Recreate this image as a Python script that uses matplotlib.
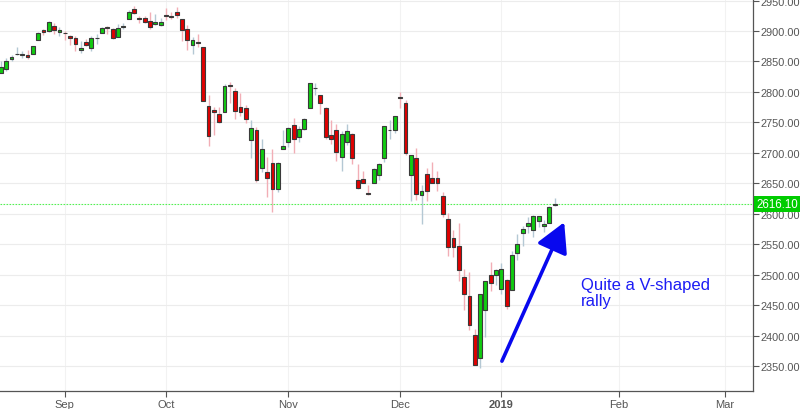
import numpy as np
import pandas as pd
import matplotlib
matplotlib.use("Agg")
import matplotlib.pyplot as plt
from matplotlib.transforms import blended_transform_factory

plt.rcParams['font.family'] = ['Liberation Sans', 'DejaVu Sans']

# S&P 500 daily candles, 16 Aug 2018 - 16 Jan 2019
holidays = ['2018-09-03', '2018-11-22', '2018-12-05', '2018-12-25', '2019-01-01']
dates = pd.bdate_range('2018-08-16', '2019-01-16')
dates = dates[~dates.isin(pd.to_datetime(holidays))]

opens = [2831.44, 2838.32, 2853.93, 2861.51, 2860.99, 2860.29, 2862.35, 2884.69, 2901.45, 2900.62, 2908.94, 2898.37,
         2896.96, 2891.59, 2888.64, 2868.26, 2881.39, 2871.57, 2888.29, 2896.85, 2906.38, 2903.83, 2890.74, 2906.60,
         2919.73, 2936.76, 2921.83, 2921.75, 2916.98, 2911.65, 2910.03,
         2926.29, 2923.80, 2931.69, 2919.35, 2902.54, 2877.53, 2882.51, 2873.90, 2776.87, 2770.54, 2763.83, 2767.05,
         2811.67, 2802.00, 2775.66, 2773.94, 2721.03, 2737.87, 2674.88, 2667.86, 2682.65, 2640.68, 2705.60,
         2717.58, 2745.45, 2726.37, 2738.40, 2774.13, 2806.38, 2794.10, 2773.93, 2730.05, 2737.90, 2693.52, 2718.54,
         2730.74, 2654.60, 2657.74, 2633.36, 2649.97, 2663.75, 2691.45, 2736.97, 2737.76,
         2790.50, 2782.43, 2663.51, 2691.26, 2630.86, 2664.44, 2658.23, 2658.70, 2629.68, 2590.75, 2559.90, 2547.05,
         2496.77, 2465.38, 2400.56, 2363.12, 2442.50, 2498.77, 2498.94,
         2476.96, 2491.92, 2474.33, 2535.61, 2568.11, 2580.00, 2573.51, 2588.11, 2580.31, 2585.10, 2614.75]
highs = [2850.49, 2855.63, 2859.76, 2873.23, 2867.54, 2868.78, 2876.16, 2898.25, 2903.77, 2916.50, 2912.46, 2906.32,
         2900.18, 2894.21, 2892.05, 2883.81, 2886.93, 2892.52, 2894.65, 2906.76, 2908.30, 2904.65, 2911.17, 2912.36,
         2934.80, 2940.91, 2923.79, 2923.95, 2931.15, 2927.22, 2920.53,
         2937.06, 2931.42, 2939.86, 2919.78, 2909.64, 2889.45, 2894.83, 2874.02, 2795.14, 2775.77, 2775.99, 2813.46,
         2816.94, 2806.04, 2797.77, 2778.94, 2753.59, 2742.59, 2722.70, 2692.38, 2706.85, 2685.43, 2736.69,
         2741.67, 2756.55, 2744.27, 2756.82, 2815.15, 2814.75, 2794.10, 2775.99, 2754.60, 2746.80, 2735.38, 2746.75,
         2733.16, 2681.18, 2670.73, 2647.55, 2674.35, 2682.53, 2744.00, 2753.75, 2760.88,
         2800.18, 2785.93, 2696.15, 2708.54, 2647.51, 2674.35, 2685.44, 2670.19, 2635.07, 2601.13, 2573.99, 2585.29,
         2509.63, 2504.41, 2410.34, 2467.76, 2489.10, 2520.27, 2509.24,
         2519.49, 2493.14, 2538.07, 2566.16, 2579.82, 2595.32, 2597.82, 2596.27, 2589.32, 2613.08, 2625.76]
lows = [2831.44, 2833.73, 2850.62, 2861.32, 2856.05, 2854.03, 2862.35, 2884.69, 2893.50, 2898.40, 2895.22, 2891.73,
        2885.13, 2876.92, 2867.29, 2864.12, 2875.94, 2866.78, 2879.20, 2896.39, 2895.77, 2886.16, 2890.43, 2903.82,
        2919.73, 2927.11, 2912.63, 2913.70, 2903.28, 2909.27, 2907.50,
        2917.91, 2919.37, 2921.36, 2883.92, 2869.29, 2862.08, 2874.27, 2784.86, 2710.51, 2729.44, 2749.03, 2766.91,
        2781.81, 2755.18, 2760.27, 2749.22, 2691.43, 2651.89, 2667.84, 2628.16, 2603.54, 2635.34, 2705.60,
        2708.85, 2700.44, 2717.94, 2737.08, 2774.13, 2794.99, 2764.24, 2722.00, 2714.98, 2685.75, 2670.75, 2712.16,
        2681.09, 2641.39, 2649.82, 2631.09, 2649.97, 2655.89, 2684.38, 2722.94, 2732.76,
        2773.38, 2697.18, 2621.53, 2623.14, 2583.23, 2621.30, 2650.26, 2637.27, 2593.84, 2530.54, 2528.71, 2488.96,
        2441.18, 2408.55, 2351.10, 2346.58, 2397.94, 2472.89, 2482.82,
        2467.47, 2443.96, 2474.33, 2524.56, 2547.56, 2568.89, 2562.02, 2577.40, 2570.41, 2585.10, 2612.68]
closes = [2840.69, 2850.13, 2857.05, 2862.96, 2861.82, 2856.98, 2874.69, 2896.74, 2897.52, 2914.04, 2901.13, 2901.52,
          2896.72, 2888.60, 2878.05, 2871.68, 2877.13, 2887.89, 2888.92, 2904.18, 2904.98, 2888.80, 2904.31, 2907.95,
          2930.75, 2929.67, 2919.37, 2915.56, 2905.97, 2914.00, 2913.98,
          2924.59, 2923.43, 2925.51, 2901.61, 2885.57, 2884.43, 2880.34, 2785.68, 2728.37, 2767.13, 2750.79, 2809.92,
          2809.21, 2768.78, 2767.78, 2755.88, 2740.69, 2656.10, 2705.57, 2658.69, 2641.25, 2682.63, 2711.74,
          2740.37, 2723.06, 2738.31, 2755.45, 2813.89, 2806.83, 2781.01, 2726.22, 2722.18, 2701.58, 2730.20, 2736.27,
          2690.73, 2641.89, 2649.93, 2632.56, 2673.45, 2682.17, 2743.79, 2737.80, 2760.17,
          2790.37, 2700.06, 2695.95, 2633.08, 2637.72, 2636.78, 2651.07, 2650.54, 2599.95, 2545.94, 2546.16, 2506.96,
          2467.42, 2416.62, 2351.10, 2467.70, 2488.83, 2485.74, 2506.85,
          2510.03, 2447.89, 2531.94, 2549.69, 2574.41, 2584.96, 2596.64, 2596.26, 2582.61, 2610.30, 2616.10]

last_price = 2616.10
month_labels = ['Sep', 'Oct', 'Nov', 'Dec', '2019', 'Feb', 'Mar']
month_starts = ['2018-09-01', '2018-10-01', '2018-11-01', '2018-12-01', '2019-01-01', '2019-02-01', '2019-03-01']
y_ticks = np.arange(2350, 2951, 50)

o = np.array(opens)
h = np.array(highs)
l = np.array(lows)
c = np.array(closes)
x = np.arange(len(c))
up = c >= o

# month tick positions on the trading-day axis (future dates counted as weekdays)
tick_pos = []
for m in month_starts:
    m = pd.Timestamp(m)
    if m <= dates[-1]:
        tick_pos.append(int(np.searchsorted(dates, m)))
    else:
        tick_pos.append(len(dates) - 1 + int(np.busday_count(dates[-1].date(), m.date())))

fig = plt.figure(figsize=(8, 4.1), dpi=100)
ax = fig.add_axes([0, 18 / 410, 753 / 800, 392 / 410])

green = '#11cc11'
red = '#e00000'
wick_cols = np.where(up, '#b4c8d4', '#f2aeb6')

ax.vlines(x, l, h, colors=wick_cols, linewidth=1.0, zorder=2)
body_bottom = np.minimum(o, c)
body_h = np.maximum(np.abs(c - o), 0.6)
ax.bar(x, body_h, bottom=body_bottom, width=0.72, color=np.where(up, green, red),
       edgecolor='#3a3a3a', linewidth=0.8, zorder=3)

# last price line and label
ax.axhline(last_price, color='#55ee55', linestyle=(0, (1.5, 1.2)), linewidth=0.8, zorder=1)
trans = blended_transform_factory(ax.transAxes, ax.transData)
ax.text(1.004, last_price, f'{last_price:.2f}', transform=trans, ha='left', va='center',
        color='white', fontsize=8.3, zorder=10, clip_on=False,
        bbox=dict(boxstyle='square,pad=0.18', facecolor='#00cc00', edgecolor='none'))

# annotation
ax.annotate('', xy=(105.8, 2586), xytext=(94.1, 2358),
            arrowprops=dict(arrowstyle='-|>,head_length=1.0,head_width=0.55', color='#0808ee',
                            lw=2.6, mutation_scale=18, shrinkA=0, shrinkB=0), zorder=5)
ax.text(109.0, 2496, 'Quite a V-shaped\nrally', color='#1c1cf5', fontsize=12,
        ha='left', va='top', linespacing=1.05, zorder=5)

ax.set_xlim(-0.17, 141.26)
ax.set_ylim(2309, 2952.5)

ax.yaxis.tick_right()
ax.set_yticks(y_ticks)
ax.set_yticklabels([f'{v:.2f}' for v in y_ticks])
ax.set_xticks(tick_pos)
ax.set_xticklabels(month_labels)
for lab in ax.get_xticklabels():
    if lab.get_text() == '2019':
        lab.set_fontweight('bold')
        lab.set_color('#444444')

ax.tick_params(axis='y', labelsize=7.9, colors='#555555', length=4, width=0.8, pad=1.5)
ax.tick_params(axis='x', labelsize=8.0, colors='#555555', length=4, width=0.8, pad=2)

ax.grid(axis='y', color='#ececec', linewidth=0.8)
ax.grid(axis='x', color='#f2f2f2', linewidth=0.8)
ax.set_axisbelow(True)

for side in ['left', 'top']:
    ax.spines[side].set_visible(False)
for side in ['right', 'bottom']:
    ax.spines[side].set_color('#555555')
    ax.spines[side].set_linewidth(0.9)

fig.savefig('out.png', dpi=100)
